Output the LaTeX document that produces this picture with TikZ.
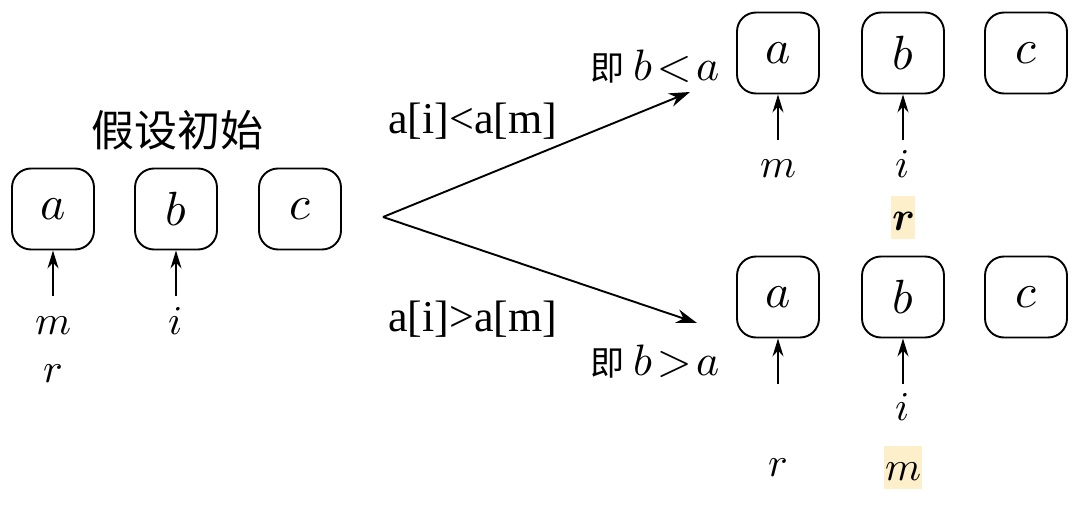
\documentclass[tikz,border=0pt]{standalone}
\usepackage{fontspec}
\usepackage{unicode-math}
\setmainfont{Liberation Serif}
\setmathfont{Latin Modern Math}
\newfontfamily\cjk{Noto Sans CJK SC}
\newfontfamily\tms{Liberation Serif}
\usetikzlibrary{arrows.meta}
\definecolor{hl}{HTML}{FDEFC9}

\tikzset{
	cell/.style={draw,line width=1.9pt,rounded corners=19pt,minimum width=82pt,minimum height=81pt,inner sep=0pt,font=\fontsize{48}{56}\selectfont},
	ptr/.style={line width=1.8pt,-{Stealth[length=18pt,width=11pt]}},
	fork/.style={line width=1.9pt,-{Stealth[length=21pt,width=14pt]}},
	lbl/.style={anchor=base,inner sep=0pt,font=\fontsize{41}{48}\selectfont},
	hilite/.style={fill=hl,inner xsep=1pt,text height=34pt,text depth=9pt},
	cond/.style={anchor=base west,inner sep=0pt,font={\tms\fontsize{44}{52}\selectfont}},
	note/.style={anchor=base west,inner sep=0pt,font=\fontsize{44}{50}\selectfont}
}

\begin{document}
\begin{tikzpicture}[x=1pt,y=-1pt]
	\useasboundingbox[fill=white] (0,0) rectangle (1080,506);

	%BOXES
	\foreach \n/\x in {a/53,b/176,c/300}{
		\node[cell] (l\n) at (\x,209) {$\n$}; %start row
	}
	\foreach \n/\x in {a/778,b/903,c/1026}{
		\node[cell] (t\n) at (\x,53) {$\n$};	%upper row
		\node[cell] (b\n) at (\x,297) {$\n$};	%lower row
	}

	%POINTERS
	\foreach \n/\d in {la/46,lb/46,ta/46,tb/46,ba/46,bb/46}{
		\coordinate (\n-p) at ([yshift=-\d pt]\n.south);
		\draw[ptr] (\n-p) -- (\n.south);
	}

	%INDEX LABELS
	\node[lbl] (lm) at (53,334) {$m$};
	\node[lbl] (lr) at (53,382) {$r$};
	\node[lbl] (li) at (176,334) {$i$};
	\node[lbl] (tm) at (778,177) {$m$};
	\node[lbl] (ti) at (903,177) {$i$};
	\node[lbl,hilite] (tr) at (903,230) {$\symbfit{r}$};
	\node[lbl] (bi) at (903,420) {$i$};
	\node[lbl] (br) at (778,476) {$r$};
	\node[lbl,hilite] (bm) at (903,480) {$m$};

	%TEXTS
	\node[anchor=base,inner sep=0pt,font={\cjk\fontsize{43}{50}\selectfont}] (init) at (177,146) {假设初始};
	\node[cond] (c1) at (388,133) {a[i]<a[m]};
	\node[cond] (c2) at (388,331) {a[i]>a[m]};
	\node[note] (n1) at (590,80) {{\cjk\fontsize{34}{40}\selectfont 即}\hspace{9pt}$b\mkern2mu{<}\mkern2mu a$};
	\node[note] (n2) at (590,375) {{\cjk\fontsize{34}{40}\selectfont 即}\hspace{9pt}$b\mkern2mu{>}\mkern2mu a$};

	%BRANCHES
	\coordinate (fork) at (383,217);
	\coordinate (up) at (690,92);
	\coordinate (dn) at (697,323);
	\draw[fork] (fork) -- (up);
	\draw[fork] (fork) -- (dn);
\end{tikzpicture}
\end{document}
